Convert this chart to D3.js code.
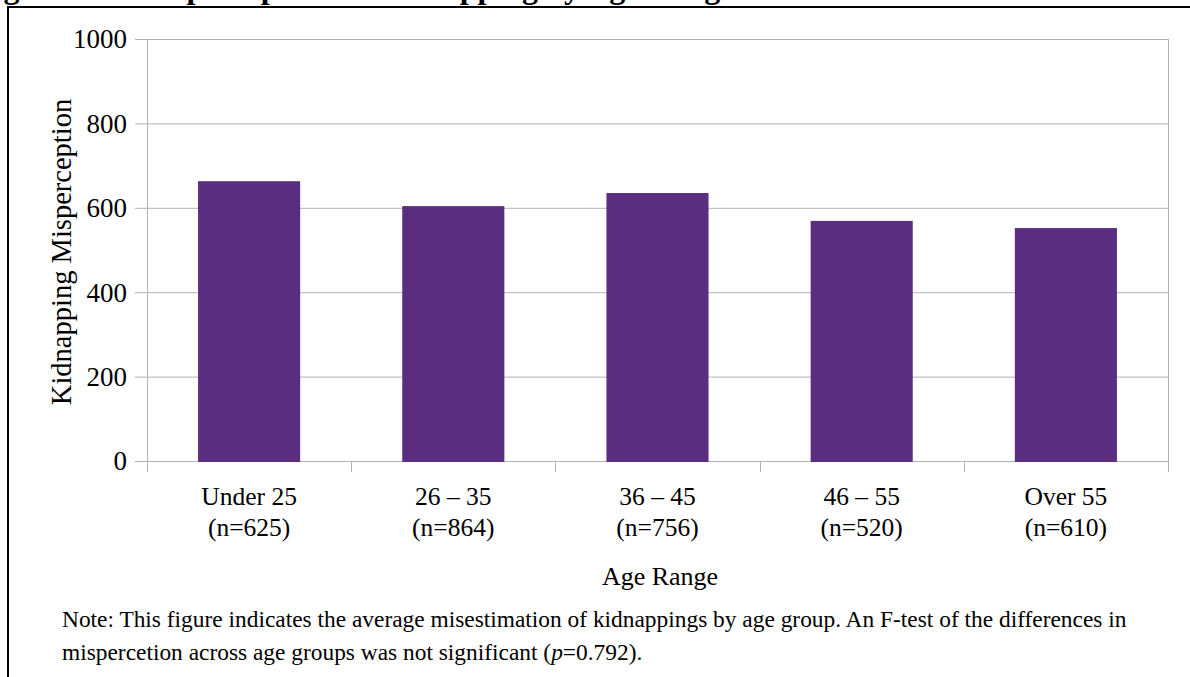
<!DOCTYPE html>
<html><head><meta charset="utf-8">
<script src="https://cdn.jsdelivr.net/npm/d3@7"></script>
<style>body{margin:0;background:#fff;}svg{display:block;}</style>
</head><body>
<svg id="c" width="1190" height="677"></svg>
<script>
const categories = ["Under 25", "26 – 35", "36 – 45", "46 – 55", "Over 55"];
const sampleSizes = ["(n=625)", "(n=864)", "(n=756)", "(n=520)", "(n=610)"];
const values = [663, 604, 635, 569, 552];
const yTicks = [0, 200, 400, 600, 800, 1000];
const titleParts = ["Figure 5.", "Misperception of Kidnapping by Age Range"];
const yLabel = "Kidnapping Misperception";
const xLabel = "Age Range";
const noteLines = ["Note: This figure indicates the average misestimation of kidnappings by age group. An F-test of the differences in",
  "mispercetion across age groups was not significant (", "p", "=0.792)."];

const svg = d3.select("#c");
const font = "'Liberation Serif', 'Times New Roman', serif";
const L = 147, R = 1168, T = 39, B = 461;

// clipped title (only descenders visible, as in the reference)
const tt = svg.append("text").attr("x", -25).attr("y", -2).attr("font-family", font).attr("font-weight", "bold")
  .attr("font-size", 32).attr("fill", "#000");
tt.append("tspan").text(titleParts[0]);
tt.append("tspan").attr("dx", 38).text(titleParts[1]);

// frame
svg.append("line").attr("x1", 7).attr("x2", 1190).attr("y1", 7).attr("y2", 7).attr("stroke", "#000").attr("stroke-width", 2);
svg.append("line").attr("x1", 8).attr("x2", 8).attr("y1", 6).attr("y2", 677).attr("stroke", "#000").attr("stroke-width", 2);

const x = d3.scaleBand().domain(categories).range([L, R]).paddingInner(0.5).paddingOuter(0.25);
const y = d3.scaleLinear().domain([0, 1000]).range([B, T]);

// gridlines
svg.append("g").selectAll("line").data(yTicks).join("line")
  .attr("x1", L - 12).attr("x2", R).attr("y1", d => y(d) + 0.5).attr("y2", d => y(d) + 0.5)
  .attr("stroke", "#b3b3b3").attr("stroke-width", 1);
svg.append("line").attr("x1", R + 0.5).attr("x2", R + 0.5).attr("y1", T).attr("y2", B + 11).attr("stroke", "#b3b3b3");
svg.append("line").attr("x1", L + 0.5).attr("x2", L + 0.5).attr("y1", T).attr("y2", B + 11).attr("stroke", "#b3b3b3");
const bounds = categories.map((c, i) => L + i * x.step()).slice(1);
svg.append("g").selectAll("line").data(bounds).join("line")
  .attr("x1", d => Math.round(d) + 0.5).attr("x2", d => Math.round(d) + 0.5).attr("y1", B).attr("y2", B + 11)
  .attr("stroke", "#b3b3b3");

// bars
svg.append("g").selectAll("rect").data(values).join("rect")
  .attr("x", (d, i) => x(categories[i])).attr("width", x.bandwidth())
  .attr("y", d => y(d)).attr("height", d => B + 1 - y(d)).attr("fill", "#5a2d81");

// y tick labels
svg.append("g").selectAll("text").data(yTicks).join("text")
  .attr("x", 127).attr("y", d => y(d)).attr("dy", "0.35em").attr("text-anchor", "end")
  .attr("font-family", font).attr("font-size", 27).attr("fill", "#000").text(d => d);

// x labels
const xl = svg.append("g").selectAll("text").data(categories).join("text")
  .attr("text-anchor", "middle").attr("font-family", font).attr("font-size", 25.5).attr("fill", "#000")
  .attr("x", d => x(d) + x.bandwidth() / 2);
xl.append("tspan").attr("x", d => x(d) + x.bandwidth() / 2).attr("y", 505).text(d => d);
xl.append("tspan").attr("x", d => x(d) + x.bandwidth() / 2).attr("y", 536).text((d, i) => sampleSizes[i]);

// axis titles
svg.append("text").attr("transform", "translate(71,252) rotate(-90)").attr("text-anchor", "middle")
  .attr("font-family", font).attr("font-size", 28.5).attr("fill", "#000").text(yLabel);
svg.append("text").attr("x", 660).attr("y", 585).attr("text-anchor", "middle")
  .attr("font-family", font).attr("font-size", 26).attr("fill", "#000").text(xLabel);

// note
const n1 = svg.append("text").attr("x", 62).attr("y", 627).attr("font-family", font).attr("font-size", 23.4).attr("fill", "#000");
n1.text(noteLines[0]);
const n2 = svg.append("text").attr("x", 62).attr("y", 660).attr("font-family", font).attr("font-size", 23.4).attr("fill", "#000");
n2.append("tspan").text(noteLines[1]);
n2.append("tspan").attr("font-style", "italic").text(noteLines[2]);
n2.append("tspan").text(noteLines[3]);
</script>
</body></html>
